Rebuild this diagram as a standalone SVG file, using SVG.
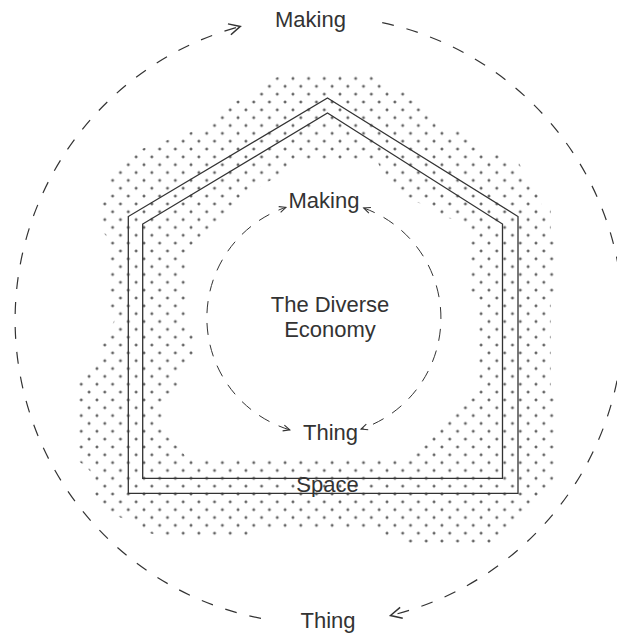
<svg xmlns="http://www.w3.org/2000/svg" width="617" height="635" viewBox="0 0 617 635">
<style>
.lbl{font-family:"Liberation Sans",Arial,sans-serif;font-size:22px;fill:#333;text-anchor:middle}
.wall{fill:none;stroke:#333;stroke-width:1.3;stroke-linejoin:miter}
.outer{fill:none;stroke:#333;stroke-width:1.2;stroke-dasharray:12 13}
.inner{fill:none;stroke:#333;stroke-width:1;stroke-dasharray:12 10}
</style>
<defs>
<pattern id="dots" patternUnits="userSpaceOnUse" x="124.38" y="490.08" width="15.68" height="15.68">
<path d="M2.42,3.92h3M3.92,2.42v3M10.26,11.76h3M11.76,10.26v3" stroke="#222" stroke-width="0.9" fill="none"/>
</pattern>
<marker id="arrowBig" markerUnits="userSpaceOnUse" markerWidth="20" markerHeight="20" refX="0" refY="0" viewBox="-12 -8 16 16" orient="auto-start-reverse">
<path d="M-9,-4.5 L0,0 L-9,4.5" fill="none" stroke="#333" stroke-width="1.2"/>
</marker>
<marker id="arrowSmall" markerUnits="userSpaceOnUse" markerWidth="12" markerHeight="12" refX="0" refY="0" viewBox="-7 -5 10 10" orient="auto-start-reverse">
<path d="M-5.5,-2.5 L0,0 L-5.5,2.5" fill="none" stroke="#333" stroke-width="0.9"/>
</marker>
</defs>

<g id="stipple">
<path fill="url(#dots)" fill-rule="evenodd" d="M289,73 H369 L376,81 L384,81 L388,89 L407,89 L411,97 L416,97 L420,104 L424,104 L428,112 L432,112 L436,120 L439,120 L443,128 L462,128 L466,136 L471,136 L475,144 L479,144 L483,152 L502,152 L506,159 L517,159 L521,167 L526,167 L526,183 L534,183 L534,191 L542,191 L542,207 L551,207 L551,238 L557,238 L557,294 L551,294 L551,388 L557,396 L557,466 L553,480 L549,490 L542,498 L534,506 L526,514 L517,522 L509,530 L501,537 L492,545 L408,545 L404,537 L384,537 L380,530 L251,530 L247,537 L163,537 L139,530 L131,522 L112,514 L105,506 L97,498 L93,490 L93,474 L85,466 L77,460 L77,380 L85,372 L93,365 L100,357 L100,341 L108,333 L116,317 L108,310 L108,238 L101,230 L100,199 L108,191 L108,175 L116,167 L124,160 L133,152 L156,144 L179,136 L203,128 L210,120 L218,112 L226,104 L249,97 L258,89 L266,81 Z
M285,168 L296,160 L376,159 L384,175 L392,183 L400,191 L408,199 L430,207 L438,215 L462,222 L468,230 L468,300 L476,304 L476,388 L468,392 L468,404 L460,408 L454,416 L446,424 L438,432 L430,440 L422,448 L413,456 L392,460 L188,460 L180,449 L172,441 L164,433 L164,398 L172,394 L178,384 L172,378 L180,370 L188,362 L195,355 L188,345 L196,337 L188,330 L188,248 L197,240 L205,232 L213,225 L222,216 L237,209 L245,201 L253,193 L262,185 L277,177 Z"/>
</g>

<g id="house">
<path class="wall" d="M327.5,98 L518,216.5 L518,493.3 L128.3,493.3 L128.3,216.5 Z"/>
<path class="wall" d="M327.5,113 L502.5,224 L502.5,478.3 L142.7,478.3 L142.7,224 Z"/>
</g>

<g id="connectors">
<path class="outer" marker-end="url(#arrowBig)" d="M382.2,22.6 A304,304 0 0 1 390.5,615.5"/>
<path class="outer" marker-end="url(#arrowBig)" d="M261,618.4 A304,304 0 0 1 240.3,26.4"/>
<path class="inner" marker-start="url(#arrowSmall)" marker-end="url(#arrowSmall)" d="M289.8,429.9 A117,117 0 0 1 285.9,207.3"/>
<path class="inner" marker-start="url(#arrowSmall)" marker-end="url(#arrowSmall)" d="M363.7,208.0 A117,117 0 0 1 361.0,429.0"/>
</g>

<g id="label-making-outer"><text class="lbl" x="310.5" y="27">Making</text></g>
<g id="label-thing-outer"><text class="lbl" x="328" y="628">Thing</text></g>
<g id="label-making-inner"><text class="lbl" x="324" y="208">Making</text></g>
<g id="label-thing-inner"><text class="lbl" x="330.5" y="440">Thing</text></g>
<g id="label-space"><text class="lbl" x="327.5" y="492">Space</text></g>
<g id="label-economy"><text class="lbl" x="330" y="312">The Diverse</text><text class="lbl" x="330" y="337">Economy</text></g>
</svg>
